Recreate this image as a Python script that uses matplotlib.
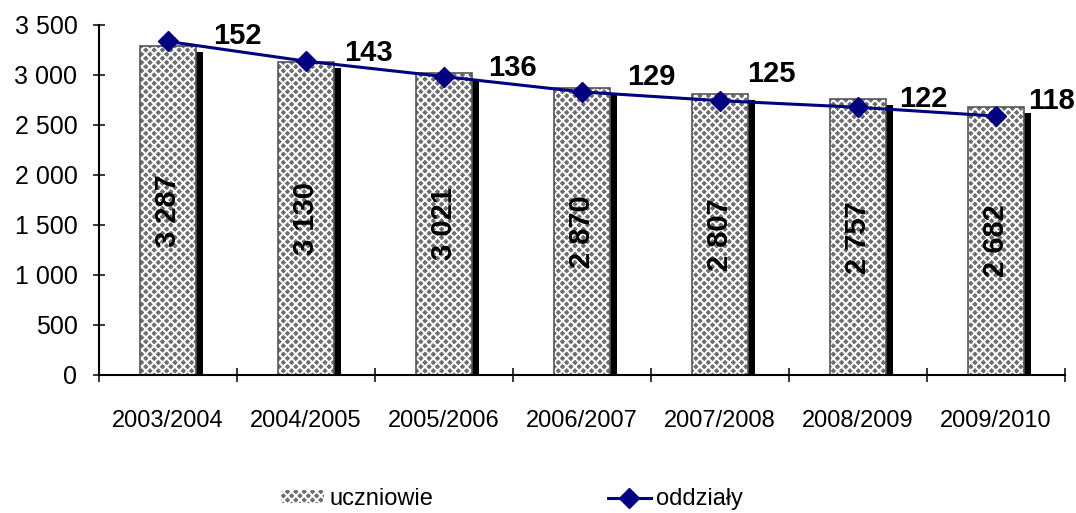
import matplotlib.pyplot as plt
import numpy as np
from matplotlib.ticker import FuncFormatter, FixedLocator

# data
years = ["2003/2004", "2004/2005", "2005/2006", "2006/2007",
         "2007/2008", "2008/2009", "2009/2010"]
uczniowie = [3287, 3130, 3021, 2870, 2807, 2757, 2682]
oddzialy = [152, 143, 136, 129, 125, 122, 118]

# manual label offsets for the line labels (points)
label_dx = [50, 45, 49, 50, 37, 47, 40]
label_dy = [4, 6, 6, 11, 19, 6, 11]

plt.rcParams['font.family'] = ['Liberation Sans', 'DejaVu Sans']
plt.rcParams['hatch.linewidth'] = 1.4


def space_thousands(v, pos):
    return f"{int(v):,}".replace(",", " ")


fig = plt.figure(figsize=(10.76, 5.13), dpi=100)
ax = fig.add_axes([99 / 1076, 138 / 513, 966 / 1076, 350 / 513])

x = np.arange(len(years))
width = 0.405

# shadow behind the bars
ax.bar(x + 0.05, np.array(uczniowie) - 60, width, color="black", zorder=1.5)
# hatched fill (white pattern on grey) + grey outline on top
ax.bar(x, uczniowie, width, facecolor="#6e6e6e", edgecolor="white",
       hatch="xxxx", linewidth=0, zorder=2)
ax.bar(x, uczniowie, width, facecolor="none", edgecolor="#555555",
       linewidth=1.2, zorder=2.1)

for xi, v in zip(x, uczniowie):
    ax.text(xi, v / 2, space_thousands(v, None), rotation=90, ha="center",
            va="center", fontsize=21, fontweight="bold", zorder=3)

ax.set_xlim(-0.5, len(years) - 0.5)
ax.set_ylim(0, 3500)
ax.set_yticks(np.arange(0, 3501, 500))
ax.yaxis.set_major_formatter(FuncFormatter(space_thousands))

ax.xaxis.set_major_locator(FixedLocator(np.arange(-0.5, len(years), 1.0)))
ax.xaxis.set_minor_locator(FixedLocator(x))
ax.xaxis.set_major_formatter(FuncFormatter(lambda v, p: ""))
ax.set_xticklabels(years, minor=True)
ax.tick_params(axis="x", which="minor", length=0, pad=25, labelsize=17)
ax.tick_params(axis="x", which="major", direction="inout", length=10, width=1.1)
ax.tick_params(axis="y", direction="inout", length=9, width=1.1, pad=11,
               labelsize=18)

for side in ["top", "right"]:
    ax.spines[side].set_visible(False)
for side in ["left", "bottom"]:
    ax.spines[side].set_linewidth(1.5)

# line on the hidden secondary axis
ax2 = ax.twinx()
ax2.set_ylim(0, 159.5)
ax2.plot(x, oddzialy, color="#000080", linewidth=2.2, marker="D",
         markersize=10.5, label="oddziały", zorder=4)
for xi, v, dx, dy in zip(x, oddzialy, label_dx, label_dy):
    ax2.annotate(str(v), (xi, v), xytext=(dx, dy), textcoords="offset points",
                 ha="center", va="center", fontsize=21, fontweight="bold")
ax2.axis("off")

# legend proxy for the hatched bars
bar_handle = plt.Rectangle((0, 0), 1, 1, facecolor="#6e6e6e", edgecolor="white",
                           hatch="xxxx", linewidth=0)
h2, l2 = ax2.get_legend_handles_labels()
fig.legend([bar_handle] + h2, ["uczniowie"] + l2, loc="center",
           bbox_to_anchor=(0.476, 0.027), ncol=2, frameon=False, fontsize=17,
           handlelength=1.8, handleheight=0.45, handletextpad=0.25,
           columnspacing=7.4)

fig.savefig("out.png", dpi=100)
